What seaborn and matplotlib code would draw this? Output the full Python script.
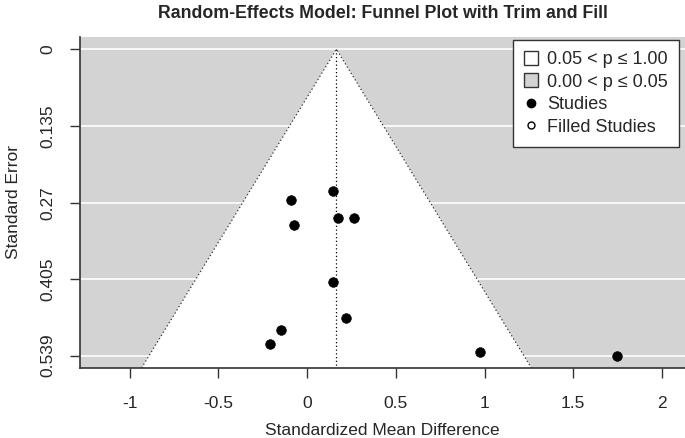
import numpy as np
import pandas as pd
import seaborn as sns
import matplotlib.pyplot as plt
from matplotlib.lines import Line2D
from matplotlib.patches import Patch

smd = [0.148, -0.094, 0.175, 0.262, -0.072, 0.143, 0.217, -0.148, -0.212, 0.975, 1.748]
se = [0.249, 0.265, 0.296, 0.296, 0.310, 0.409, 0.473, 0.494, 0.519, 0.532, 0.539]

# pooled random-effects estimate
est = 0.165

y_ticks = [0, 0.135, 0.27, 0.405, 0.539]
y_ticklabels = ['0', '0.135', '0.27', '0.405', '0.539']
x_ticks = [-1, -0.5, 0, 0.5, 1, 1.5, 2]
x_ticklabels = ['-1', '-0.5', '0', '0.5', '1', '1.5', '2']

df = pd.DataFrame({'smd': smd, 'se': se})

sns.set_style('ticks')
plt.rcParams['font.family'] = ['Liberation Sans', 'DejaVu Sans']

fig = plt.figure(figsize=(6.85, 4.38), dpi=100)
ax = fig.add_axes([0.117, 0.16, 0.883, 0.7555])
ax.set_facecolor('lightgray')

ymax = 0.539 * 1.04
ymin = -0.539 * 0.04
ax.set_xlim(-1.28, 2.13)
ax.set_ylim(ymax, ymin)

# white grid lines at the y ticks
for t in y_ticks:
    ax.axhline(t, color='white', lw=1.2, zorder=1)

# funnel region (p > 0.05)
half = 1.96 * ymax
ax.fill([est - half, est, est + half], [ymax, 0, ymax],
        facecolor='white', edgecolor='none', zorder=2)
ax.plot([est - half, est, est + half], [ymax, 0, ymax],
        color='#333333', lw=0.9, ls=(0, (1, 2)), zorder=3)
ax.plot([est, est], [0, ymax], color='black', lw=0.9, ls=(0, (1, 2)), zorder=3)

sns.scatterplot(data=df, x='smd', y='se', ax=ax, color='black', s=48,
                edgecolor='black', linewidth=0.5, zorder=4, legend=False)

ax.set_xticks(x_ticks)
ax.set_xticklabels(x_ticklabels)
ax.set_yticks(y_ticks)
ax.set_yticklabels(y_ticklabels, rotation=90, va='center')
ax.tick_params(axis='both', length=7, width=1, labelsize=12.5, color='#333333')
ax.tick_params(axis='x', pad=13)
ax.tick_params(axis='y', pad=11)

for s in ['top', 'right']:
    ax.spines[s].set_visible(False)
for s in ['left', 'bottom']:
    ax.spines[s].set_color('#333333')
    ax.spines[s].set_linewidth(1.2)

ax.set_xlabel('Standardized Mean Difference', fontsize=12.5, labelpad=9)
ax.set_ylabel('Standard Error', fontsize=12.5, labelpad=14)
ax.set_title('Random-Effects Model: Funnel Plot with Trim and Fill',
             fontsize=12.8, fontweight='bold', pad=14)

handles = [
    Patch(facecolor='white', edgecolor='#333333', label='0.05 < p \u2264 1.00'),
    Patch(facecolor='lightgray', edgecolor='#333333', label='0.00 < p \u2264 0.05'),
    Line2D([], [], marker='o', ls='none', color='black', markersize=6, label='Studies'),
    Line2D([], [], marker='o', ls='none', markerfacecolor='white',
           markeredgecolor='black', markersize=5, label='Filled Studies'),
]
leg = ax.legend(handles=handles, loc='upper right', fontsize=13, frameon=True,
                fancybox=False, edgecolor='#333333', framealpha=1,
                handlelength=0.8, handleheight=0.8, handletextpad=0.5,
                labelspacing=0.3, borderpad=0.6, borderaxespad=0,
                bbox_to_anchor=(0.990, 0.991))
leg.get_frame().set_linewidth(1.0)

fig.savefig('out.png', dpi=100)
